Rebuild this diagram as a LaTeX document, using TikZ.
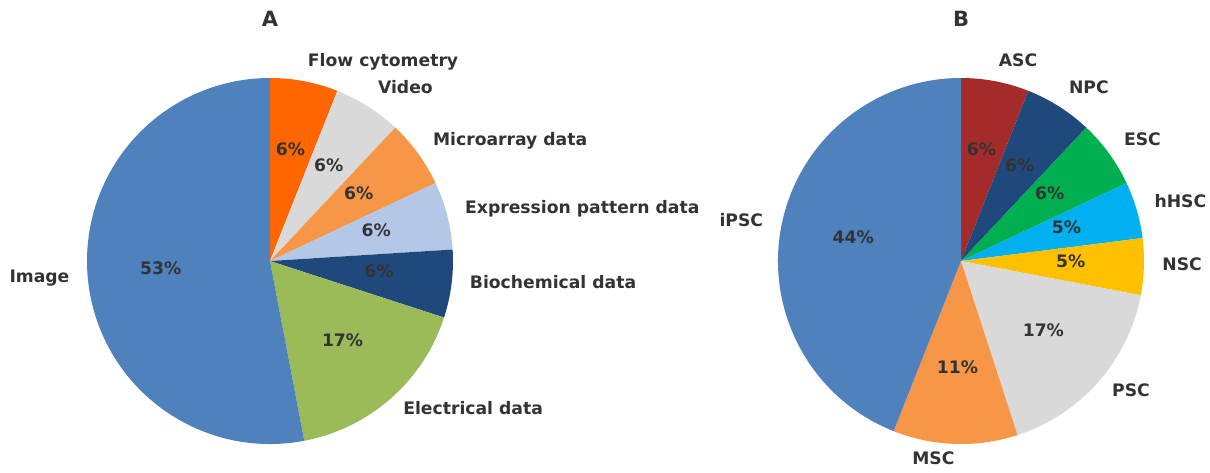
\documentclass[tikz,border=0pt]{standalone}
\usepackage{fontspec}
\setmainfont{DejaVu Sans}
\usetikzlibrary{calc}
\begin{document}
\begin{tikzpicture}[x=1pt,y=1pt,
  lbl/.style={inner sep=0pt,text height=0.76em,text depth=0.21em,
    font=\fontsize{17.2}{19}\selectfont\bfseries,text=txt},
  pct/.style={lbl,anchor=center},
  ttl/.style={inner sep=0pt,font=\fontsize{21}{24}\selectfont\bfseries,text=txt}]
\definecolor{txt}{HTML}{333333}
\definecolor{cImage}{HTML}{4F81BD}
\definecolor{cElec}{HTML}{9BBB59}
\definecolor{cBio}{HTML}{1F497D}
\definecolor{cExpr}{HTML}{B4C7E7}
\definecolor{cMicro}{HTML}{F79646}
\definecolor{cVideo}{HTML}{D9D9D9}
\definecolor{cFlow}{HTML}{FF6600}
\definecolor{cNSC}{HTML}{FFC000}
\definecolor{cHSC}{HTML}{00B0F0}
\definecolor{cESC}{HTML}{00B050}
\definecolor{cASC}{HTML}{A52A2A}
\useasboundingbox (0,0) rectangle (1210,472);
\def\R{183}
% slice: centre, start angle, end angle, colour
\newcommand\slice[4]{\fill[#4] (#1) -- ++(#2:\R) arc[start angle=#2,end angle=#3,radius=\R] -- cycle;}
% label outside (1.1 r) and percentage inside (0.6 r) at the mid angle
\newcommand\outlbl[5]{\node[lbl,anchor=#4] (#5) at ($(#1)+(#2:201.3)$) {#3};}
\newcommand\inlbl[4]{\node[pct] (#4) at ($(#1)+(#2:109.8)$) {#3};}

\coordinate (ca) at (270,211);
\coordinate (cb) at (961,211);

% ---- pie A (clockwise from the top, 3.6 degrees per percent) ----
\slice{ca}{90}{68.4}{cFlow}
\slice{ca}{68.4}{46.8}{cVideo}
\slice{ca}{46.8}{25.2}{cMicro}
\slice{ca}{25.2}{3.6}{cExpr}
\slice{ca}{3.6}{-18}{cBio}
\slice{ca}{-18}{-79.2}{cElec}
\slice{ca}{-79.2}{-270}{cImage}

\node[ttl] (ta) at (270,453) {A};
\outlbl{ca}{79.2}{Flow cytometry}{west}{lflow}
\outlbl{ca}{57.6}{Video}{west}{lvideo}
\outlbl{ca}{36}{Microarray data}{west}{lmicro}
\outlbl{ca}{14.4}{Expression pattern data}{west}{lexpr}
\outlbl{ca}{-7.2}{Biochemical data}{west}{lbio}
\outlbl{ca}{-48.6}{Electrical data}{west}{lelec}
\outlbl{ca}{-174.6}{Image}{east}{limage}
\inlbl{ca}{79.2}{6\%}{pflow}
\inlbl{ca}{57.6}{6\%}{pvideo}
\inlbl{ca}{36}{6\%}{pmicro}
\inlbl{ca}{14.4}{6\%}{pexpr}
\inlbl{ca}{-7.2}{6\%}{pbio}
\inlbl{ca}{-48.6}{17\%}{pelec}
\inlbl{ca}{-174.6}{53\%}{pimage}

% ---- pie B ----
\slice{cb}{90}{68.4}{cASC}
\slice{cb}{68.4}{46.8}{cBio}
\slice{cb}{46.8}{25.2}{cESC}
\slice{cb}{25.2}{7.2}{cHSC}
\slice{cb}{7.2}{-10.8}{cNSC}
\slice{cb}{-10.8}{-72}{cVideo}
\slice{cb}{-72}{-111.6}{cMicro}
\slice{cb}{-111.6}{-270}{cImage}

\node[ttl] (tb) at (961,453) {B};
\outlbl{cb}{79.2}{ASC}{west}{lasc}
\outlbl{cb}{57.6}{NPC}{west}{lnpc}
\outlbl{cb}{36}{ESC}{west}{lesc}
\outlbl{cb}{16.2}{hHSC}{west}{lhsc}
\outlbl{cb}{-1.8}{NSC}{west}{lnsc}
\outlbl{cb}{-41.4}{PSC}{west}{lpsc}
\outlbl{cb}{-91.8}{MSC}{east}{lmsc}
\outlbl{cb}{-190.8}{iPSC}{east}{lipsc}
\inlbl{cb}{79.2}{6\%}{pasc}
\inlbl{cb}{57.6}{6\%}{pnpc}
\inlbl{cb}{36}{6\%}{pesc}
\inlbl{cb}{16.2}{5\%}{phsc}
\inlbl{cb}{-1.8}{5\%}{pnsc}
\inlbl{cb}{-41.4}{17\%}{ppsc}
\inlbl{cb}{-91.8}{11\%}{pmsc}
\inlbl{cb}{-190.8}{44\%}{pipsc}
\end{tikzpicture}
\end{document}
